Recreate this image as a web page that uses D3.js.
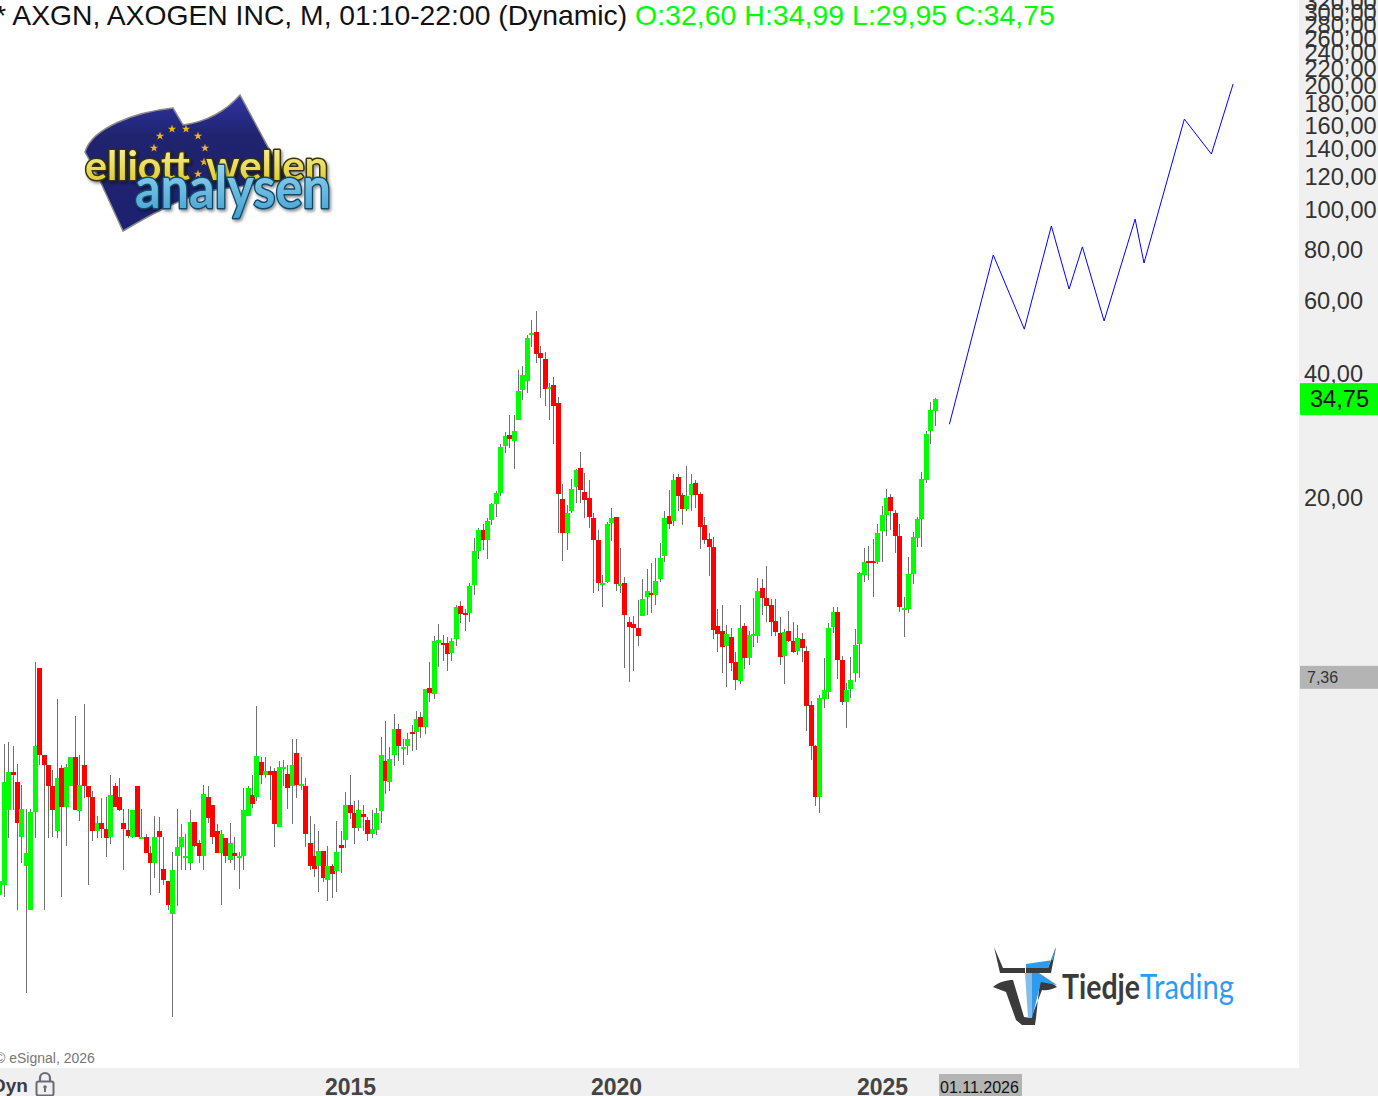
<!DOCTYPE html>
<html><head><meta charset="utf-8">
<script src="https://cdn.jsdelivr.net/npm/d3@7/dist/d3.min.js"></script>
<style>
html,body{margin:0;padding:0;background:#fff;overflow:hidden}
svg{display:block;font-family:"Liberation Sans",Arial,sans-serif}
</style></head><body>
<svg id="c" width="1378" height="1096"></svg>
<script>
const opens=[2.18,2.30,3.50,4.33,4.10,3.01,2.56,2.00,3.46,7.74,
4.76,4.50,4.00,3.11,4.41,3.56,4.00,4.71,3.48,4.50,
4.00,3.76,3.11,3.26,3.15,3.01,4.00,3.76,3.26,3.13,
3.01,4.00,2.98,3.01,2.75,2.60,3.11,2.52,2.35,1.95,
2.71,2.84,2.68,2.60,3.27,2.91,2.71,3.76,3.60,3.11,
2.75,2.99,2.65,2.75,2.68,2.71,3.39,3.80,3.76,4.58,
4.26,4.36,4.36,3.18,4.41,4.28,4.00,4.81,4.00,4.00,
2.91,2.71,2.56,2.78,2.36,2.55,2.48,2.88,2.96,3.60,
3.43,3.17,3.41,3.31,3.06,3.13,3.48,4.61,4.10,4.76,
5.50,4.93,5.00,5.42,5.42,5.88,5.56,6.92,6.69,8.90,
8.90,8.87,8.40,9.10,10.93,10.50,10.52,12.30,14.88,16.74,
15.83,17.70,19.33,20.56,26.76,28.47,27.46,30.93,36.58,38.43,
49.70,50.56,44.97,43.48,36.77,37.60,34.00,19.89,16.46,18.58,
21.28,23.65,20.67,20.00,17.89,15.83,12.30,12.50,17.40,17.98,
12.23,12.44,9.99,9.87,9.68,10.35,11.50,11.76,11.63,12.72,
14.46,18.08,17.60,22.48,20.33,18.80,20.33,21.80,20.45,17.20,
15.91,15.22,9.79,9.52,8.75,9.20,7.99,7.20,9.79,8.18,
9.26,9.26,12.10,11.44,11.00,10.05,9.42,8.28,9.52,8.99,
8.52,9.10,8.52,6.30,5.00,3.76,6.50,6.76,9.73,10.58,
8.09,6.40,6.88,7.50,8.85,12.97,14.07,14.07,13.98,16.65,
18.20,20.11,18.37,16.18,10.70,10.76,13.07,16.00,17.80,22.12,
29.07,32.60];
const highs=[2.35,5.06,5.12,5.00,4.53,4.03,3.52,3.52,8.00,7.74,
4.76,4.50,4.38,6.51,4.50,4.53,4.71,5.92,4.76,6.33,
4.00,3.89,3.39,3.74,3.76,4.26,4.07,4.17,3.52,3.52,
3.50,4.00,3.52,3.06,2.86,3.39,3.37,3.01,2.35,2.77,
3.52,3.23,3.06,3.50,3.27,2.96,4.03,4.00,3.60,3.23,
3.13,2.99,3.26,3.01,2.77,3.96,4.00,4.26,6.26,4.71,
4.71,4.47,4.43,4.61,4.63,4.50,5.20,5.20,4.71,4.17,
3.39,3.23,3.11,2.78,2.86,2.58,3.29,3.11,3.87,4.26,
3.67,3.70,3.60,3.37,3.50,3.54,5.26,5.76,4.98,5.98,
5.64,5.20,5.37,5.61,6.09,6.05,6.88,8.00,9.26,9.89,
9.31,9.20,9.15,11.00,11.24,10.76,12.45,16.00,16.92,17.30,
17.89,19.44,20.80,27.10,29.00,31.80,31.80,40.88,41.80,49.70,
54.07,56.90,46.76,45.22,37.97,39.32,35.17,21.61,19.22,22.23,
23.52,25.85,23.00,22.10,18.37,16.74,13.00,17.50,18.91,17.98,
15.13,12.87,10.29,10.35,11.32,12.72,13.45,13.90,14.31,15.55,
18.58,20.91,22.87,22.87,20.56,23.90,22.87,22.12,20.67,17.98,
16.46,16.09,10.76,11.00,9.84,9.68,8.47,11.00,9.95,9.52,
11.44,12.79,12.72,13.67,11.38,11.38,10.29,9.63,10.64,9.99,
9.84,9.42,8.75,6.44,5.03,6.65,8.18,9.95,10.88,10.88,
8.28,7.12,8.23,9.63,13.25,15.13,15.30,15.91,17.30,19.11,
21.02,20.45,18.70,17.30,11.50,14.38,16.55,17.98,23.15,29.07,
34.17,34.99];
const lows=[2.18,2.15,2.99,3.50,2.00,2.60,1.26,2.00,2.99,4.50,
2.00,2.99,3.01,2.99,2.15,2.86,4.00,3.50,3.29,3.74,
2.30,2.94,2.99,2.99,2.69,2.89,3.56,3.48,2.50,2.99,
2.99,3.01,2.98,2.75,2.17,2.39,2.20,2.30,2.00,1.10,
2.04,2.50,2.50,2.50,2.84,2.60,2.50,3.25,2.89,2.75,
2.06,2.60,2.60,2.50,2.25,2.50,3.39,3.54,3.67,4.05,
4.19,3.70,2.84,3.18,4.00,3.52,3.24,3.74,3.92,2.84,
2.50,2.41,2.21,2.34,2.10,2.14,2.21,2.46,2.83,3.33,
2.89,3.11,3.11,2.94,2.99,3.04,3.26,3.83,3.89,4.47,
4.61,4.50,4.76,4.87,4.90,5.23,5.34,6.38,6.50,7.78,
8.04,7.61,8.04,8.75,9.95,9.52,10.00,11.63,14.23,14.96,
14.23,17.20,17.98,20.22,25.70,26.44,23.52,30.93,34.58,35.96,
46.50,42.52,34.97,33.44,30.93,27.10,16.46,14.07,14.96,18.37,
19.44,19.44,17.89,16.92,11.76,11.90,10.88,12.44,15.73,11.90,
11.76,7.74,7.15,7.61,8.75,10.35,10.40,10.52,11.00,12.50,
13.98,16.82,17.10,18.58,17.20,18.58,18.58,18.91,15.05,15.47,
12.94,9.10,8.47,7.50,6.96,7.61,6.84,7.08,7.70,7.85,
8.70,8.90,10.40,9.99,9.26,9.26,7.85,7.08,8.94,8.42,
8.33,7.99,5.43,4.63,3.58,3.43,6.19,6.50,9.42,7.27,
6.30,5.53,6.54,7.15,7.32,12.50,12.65,11.50,13.82,13.98,
16.18,16.74,14.70,10.58,9.20,10.52,12.37,15.22,15.22,21.80,
27.10,29.95];
const closes=[2.35,4.10,4.33,4.26,3.26,3.52,2.75,3.46,5.00,4.76,
4.50,4.00,3.50,4.17,3.56,4.45,4.71,3.50,4.03,4.00,
3.76,3.11,3.26,3.15,2.99,3.80,3.56,3.50,3.15,3.02,
3.50,3.01,3.01,2.75,2.60,3.01,3.01,2.36,2.06,2.50,
2.84,3.01,2.71,3.27,2.86,2.71,3.83,3.35,3.01,2.75,
3.06,2.71,2.91,2.71,2.71,3.50,3.96,3.61,4.73,4.26,
4.36,4.26,3.24,4.45,4.45,3.96,4.50,4.03,4.05,3.06,
2.55,2.52,2.78,2.39,2.55,2.45,2.77,2.83,3.60,3.43,
3.17,3.50,3.37,3.06,3.15,3.43,4.76,4.12,4.66,5.50,
5.00,4.98,5.20,5.34,5.82,5.56,6.88,6.72,8.99,9.03,
8.85,8.37,8.99,10.88,10.46,10.40,12.20,14.88,16.74,15.83,
17.60,19.33,20.56,26.60,28.30,27.80,29.07,36.38,39.75,48.89,
50.27,44.72,43.72,36.77,37.19,33.44,20.45,16.46,18.37,21.02,
23.39,20.91,19.78,17.98,15.83,12.44,12.44,17.30,17.89,12.37,
12.37,10.40,9.73,9.68,9.26,11.38,11.90,11.63,12.58,14.31,
17.89,17.30,22.12,20.22,18.79,20.22,21.60,20.33,17.00,15.83,
15.22,9.57,9.37,8.70,9.37,7.95,7.24,9.68,8.18,9.31,
9.37,11.90,11.44,10.94,9.99,9.47,8.23,9.47,8.99,8.47,
9.15,8.65,6.26,5.00,3.76,6.54,6.84,9.68,10.58,8.09,
6.40,6.84,7.24,8.80,13.15,13.98,13.90,13.90,16.46,18.20,
20.00,18.58,16.18,10.88,10.82,13.07,16.09,17.80,22.23,28.60,
32.70,34.75];
// forecast path: bar index (months since the first visible bar) and price
const forecastBars=[214.2,224.1,231.1,237.2,241.2,244.2,249.1,256.1,258.1,267.2,273.3,278.2];
const forecastPrices=[30.2,77.8,51.4,91.5,64.3,81.4,53.8,95.1,74.4,166.3,136.8,202.3];
const priceTicks=[20,40,60,80,100,120,140,160,180,200,220,240,260,280,300,320];
const yearLabels=["2015","2020","2025"];
const yearBars=[79,139,199];
const lastPrice=34.75, grayPrice=7.36;
const titleMain="* AXGN, AXOGEN INC, M, 01:10-22:00 (Dynamic)";
const titleQuote="O:32,60 H:34,99 L:29,95 C:34,75";

const svg=d3.select("#c");
const W=1378,H=1096,panelX=1300,bandY=1068;
const x=d3.scaleLinear().domain([0,211]).range([-0.2,935.2]);
const y=d3.scaleLog().domain([20,40]).range([498,374]);
const comma=v=>v.toFixed(2).replace(".",",");
const GREEN="#00ff00",RED="#ff0000";

svg.append("rect").attr("width",W).attr("height",H).attr("fill","#fff");
svg.append("rect").attr("x",panelX-1).attr("y",0).attr("width",W-panelX+1).attr("height",H).attr("fill","#f0f0f0");
svg.append("rect").attr("x",0).attr("y",bandY).attr("width",W).attr("height",H-bandY).attr("fill","#f0f0f0");

// candles
const bars=d3.range(opens.length);
const px=i=>Math.floor(x(i));
const g=svg.append("g").attr("shape-rendering","crispEdges");
g.selectAll("rect.w").data(bars).join("rect").attr("class","w")
 .attr("x",px).attr("width",1)
 .attr("y",i=>y(highs[i])).attr("height",i=>y(lows[i])-y(highs[i])).attr("fill","#707070");
g.selectAll("rect.b").data(bars).join("rect").attr("class","b")
 .attr("x",i=>px(i)-2).attr("width",5)
 .attr("y",i=>y(Math.max(opens[i],closes[i])))
 .attr("height",i=>Math.max(2,Math.abs(y(opens[i])-y(closes[i]))))
 .attr("fill",i=>closes[i]>=opens[i]?GREEN:RED);

// forecast
svg.append("path").attr("fill","none").attr("stroke","#0000ff").attr("stroke-width",1)
 .attr("d",d3.line().x((d,i)=>x(forecastBars[i])).y(d=>y(d))(forecastPrices));

// price axis
const yAxis=d3.axisRight(y).tickValues(priceTicks).tickFormat(comma).tickSize(0).tickPadding(0);
const ya=svg.append("g").attr("transform",`translate(${panelX+4},-1.2)`).call(yAxis);
ya.select(".domain").remove();
ya.selectAll("text").attr("font-size",23.6).attr("font-family","Liberation Sans").attr("fill","#333").attr("dy","0.35em").attr("dx",d=>d>=100?0.5:0);

// current price tags
svg.append("rect").attr("x",panelX).attr("y",y(lastPrice)-16).attr("width",W-panelX).attr("height",32).attr("fill",GREEN);
svg.append("text").attr("x",1310).attr("y",y(lastPrice)+7.5).attr("font-size",23.6).attr("fill","#111").text(comma(lastPrice));
svg.append("rect").attr("x",panelX).attr("y",y(grayPrice)-11).attr("width",W-panelX).attr("height",23).attr("fill","#b4b4b4");
svg.append("text").attr("x",1307).attr("y",y(grayPrice)+6).attr("font-size",16).attr("fill","#333").text(comma(grayPrice));

// time axis
const xAxis=d3.axisBottom(x).tickValues(yearBars).tickFormat((d,i)=>yearLabels[i]).tickSize(0).tickPadding(0);
const xa=svg.append("g").attr("transform","translate(0,1078.5)").call(xAxis);
xa.select(".domain").remove();
xa.selectAll("text").attr("font-size",23).attr("font-weight","bold").attr("font-family","Liberation Sans").attr("fill","#444").attr("dy","0.71em");

svg.append("rect").attr("x",939).attr("y",1074).attr("width",83).attr("height",22).attr("fill","#b4b4b4");
svg.append("text").attr("x",940).attr("y",1093).attr("font-size",16).attr("fill","#111").text("01.11.2026");

svg.append("text").attr("x",-5).attr("y",1063).attr("font-size",14).attr("fill","#777").text("© eSignal, 2026");
svg.append("text").attr("x",-8).attr("y",1092).attr("font-size",19).attr("font-weight","bold").attr("fill","#3c3c46").text("Dyn");
const lock=svg.append("g").attr("fill","none").attr("stroke","#6b6b76");
lock.append("rect").attr("x",36.5).attr("y",1081.5).attr("width",17).attr("height",14).attr("rx",2).attr("stroke-width",2);
lock.append("path").attr("d","M40 1081v-3a5 5 0 0 1 10 0v3").attr("stroke-width",2.2);
lock.append("circle").attr("cx",45).attr("cy",1087).attr("r",1.8).attr("fill","#6b6b76").attr("stroke","none");
lock.append("rect").attr("x",44).attr("y",1088).attr("width",2).attr("height",4).attr("fill","#6b6b76").attr("stroke","none");

// title
svg.append("text").attr("x",-5).attr("y",25).attr("font-size",28.3).attr("fill","#111").text(titleMain);
svg.append("text").attr("x",635).attr("y",25).attr("font-size",28.5).attr("fill",GREEN).text(titleQuote);

// Elliott Wellen logo
const defs=svg.append("defs");
const fg=defs.append("linearGradient").attr("id","flag").attr("x1",0).attr("y1",0).attr("x2",0).attr("y2",1);
fg.append("stop").attr("offset",0).attr("stop-color","#2f33a4");
fg.append("stop").attr("offset",.3).attr("stop-color","#20246f");
fg.append("stop").attr("offset",1).attr("stop-color","#1c2070");
const yg=defs.append("linearGradient").attr("id","yel").attr("x1",0).attr("y1",0).attr("x2",0).attr("y2",1);
yg.append("stop").attr("offset",0).attr("stop-color","#fdf8a8");
yg.append("stop").attr("offset",1).attr("stop-color","#d9c41c");
const bg=defs.append("linearGradient").attr("id","blu").attr("x1",0).attr("y1",0).attr("x2",0).attr("y2",1);
bg.append("stop").attr("offset",0).attr("stop-color","#a9def5");
bg.append("stop").attr("offset",1).attr("stop-color","#3f9ed0");
const sh=defs.append("filter").attr("id","sh").attr("x","-10%").attr("y","-10%").attr("width","120%").attr("height","130%");
sh.append("feDropShadow").attr("dx",1.5).attr("dy",2).attr("stdDeviation",1.5).attr("flood-color","#000").attr("flood-opacity",.45);
const logo=svg.append("g");
logo.append("path").attr("d","M85 152C92 128 135 112 173 108L183 125C205 122 225 112 240 95L268 147L290 180L215 190C180 198 150 215 123 231L95 170Z")
 .attr("fill","url(#flag)").attr("stroke","#8a8a8a").attr("stroke-width",1.5);
const stars=[[160,136],[172,129],[186,129],[198,136],[205,148],[204,162],[198,174],[154,148]];
logo.selectAll("path.s").data(stars).join("path").attr("class","s")
 .attr("d",d3.symbol(d3.symbolStar,22)()).attr("transform",d=>`translate(${d[0]},${d[1]})`).attr("fill","#f2b90f");
const lt=(s,xx,yy,w,fs,fill,st)=>logo.append("text").attr("x",xx).attr("y",yy).attr("textLength",w).attr("lengthAdjust","spacingAndGlyphs")
 .attr("font-family","Lato,'Open Sans',sans-serif").attr("font-weight",700).attr("font-size",fs).attr("fill",fill)
 .attr("stroke",st).attr("stroke-width",3).attr("stroke-linejoin","round").attr("paint-order","stroke").attr("filter","url(#sh)").text(s);
lt("elliott",85,180,105,41,"url(#yel)","#35330c");
lt("wellen",206,180,122,41,"url(#yel)","#35330c");
lt("analysen",135,208,196,58,"url(#blu)","#0e4a6a");

// TiedjeTrading logo
const tl=svg.append("g");
tl.append("path").attr("d","M994 947L1003 968L1025 968L1025 973L1000 973Z M1056 947L1048 968L1026 968L1026 973L1051 973Z").attr("fill","#3b3b3b");
tl.append("path").attr("d","M1026 964L1053 960L1056 947L1048 968L1026 968Z").attr("fill","#2d9cf0");
tl.append("path").attr("d","M993 987C999 982 1006 980 1013 980L1024 1017L1031 1018L1035 1008L1042 990C1048 991 1052 989 1057 987C1052 982 1046 981 1040 980L1036 1018L1035 1025L1022 1025L1016 1020L1006 992C1002 990 997 989 993 987Z").attr("fill","#3b3b3b");
tl.append("path").attr("d","M1025 973L1032 973L1032 1018L1028 1018Z").attr("fill","#84bcec");
tl.append("path").attr("d","M1032 973L1039 973L1057 985L1041 982L1033 1014L1032 1018Z").attr("fill","#2d9cf0");
tl.append("text").attr("x",1062).attr("y",999).attr("textLength",78).attr("lengthAdjust","spacingAndGlyphs").attr("font-family","Lato").attr("font-weight",700).attr("font-size",35).attr("fill","#3a3a3a").text("Tiedje");
tl.append("text").attr("x",1140).attr("y",999).attr("textLength",94).attr("lengthAdjust","spacingAndGlyphs").attr("font-family","Lato").attr("font-weight",400).attr("font-size",35).attr("fill","#2d9cf0").text("Trading");
</script>
</body></html>
